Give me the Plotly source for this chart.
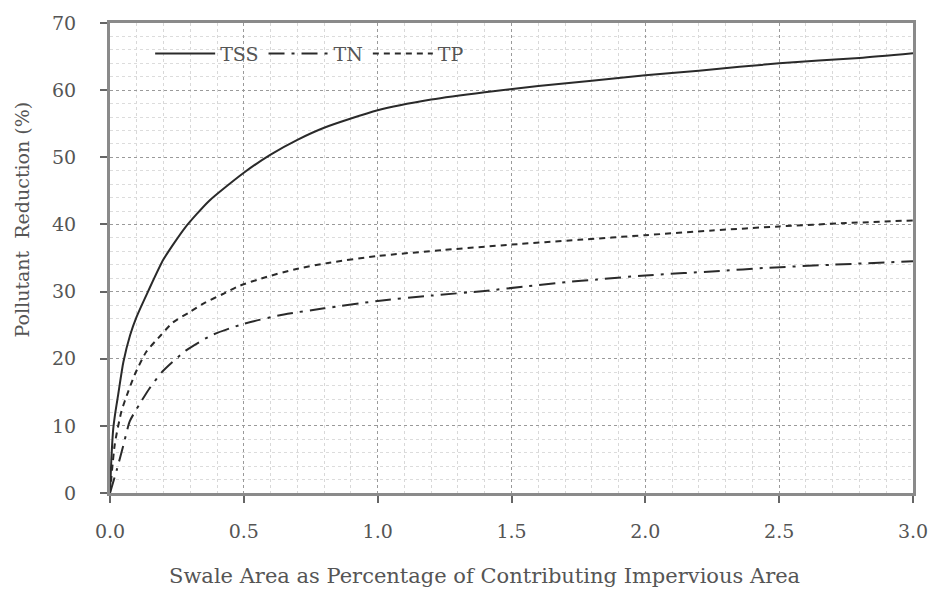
import plotly.graph_objects as go

# ---- data ----
x_tss = [0, 0.005, 0.012, 0.02, 0.03, 0.05, 0.075, 0.1, 0.142, 0.2, 0.28, 0.37,
         0.5, 0.6, 0.7, 0.8, 1.0, 1.2, 1.4, 1.6, 2.0, 2.2, 2.5, 2.8, 3.0]
y_tss = [0, 5, 9.5, 12, 14.5, 19.5, 23.5, 26.3, 30, 34.8, 39.5, 43.5,
         47.7, 50.4, 52.6, 54.4, 57.0, 58.6, 59.7, 60.6, 62.2, 62.9, 64.0, 64.8, 65.5]

x_tn = [0, 0.025, 0.048, 0.074, 0.11, 0.148, 0.196, 0.283, 0.38, 0.5, 0.65, 0.8,
        1.0, 1.2, 1.4, 1.56, 1.7, 1.82, 2.0, 2.29, 2.44, 2.7, 3.0]
y_tn = [0, 3.4, 6.8, 10.7, 13.2, 15.6, 18.1, 21.2, 23.5, 25.2, 26.6, 27.5,
        28.6, 29.4, 30.1, 30.8, 31.4, 31.8, 32.4, 33.1, 33.5, 34.0, 34.5]

x_tp = [0, 0.018, 0.043, 0.068, 0.092, 0.135, 0.19, 0.235, 0.296, 0.357, 0.42, 0.48,
        0.578, 0.689, 0.82, 1.0, 1.25, 1.5, 1.75, 2.0, 2.25, 2.5, 2.75, 3.0]
y_tp = [0, 7.3, 12.2, 15.1, 17.6, 21, 23.5, 25.4, 26.9, 28.4, 29.6, 30.8,
        32.1, 33.3, 34.3, 35.3, 36.2, 37.0, 37.7, 38.4, 39.1, 39.7, 40.2, 40.6]

series_names = ["TSS", "TN", "TP"]
x_ticks = [0.0, 0.5, 1.0, 1.5, 2.0, 2.5, 3.0]
x_tick_labels = ["0.0", "0.5", "1.0", "1.5", "2.0", "2.5", "3.0"]
y_ticks = [0, 10, 20, 30, 40, 50, 60, 70]

x_title = "Swale Area as Percentage of Contributing Impervious Area"
y_title = "Pollutant  Reduction (%)"

FONT = "DejaVu Serif"
TXT = "#555555"
LINE = "#2a2a2a"

fig = go.Figure()
fig.add_trace(go.Scatter(x=x_tss, y=y_tss, name=series_names[0], mode="lines",
                         line=dict(color=LINE, width=2, shape="spline", smoothing=0.6)))
fig.add_trace(go.Scatter(x=x_tn, y=y_tn, name=series_names[1], mode="lines",
                         line=dict(color=LINE, width=2, dash="16px,7px,3px,7px",
                                   shape="spline", smoothing=0.6)))
fig.add_trace(go.Scatter(x=x_tp, y=y_tp, name=series_names[2], mode="lines",
                         line=dict(color=LINE, width=2, dash="6px,5px",
                                   shape="spline", smoothing=0.6)))

axis_common = dict(
    showline=True, linecolor="#8a8a8a", linewidth=3, mirror=True,
    ticks="outside", ticklen=7, tickcolor="#666666", tickwidth=2,
    showgrid=True, gridcolor="#9a9a9a", gridwidth=1, griddash="dot",
    zeroline=False,
    tickfont=dict(family=FONT, size=19, color=TXT),
)

fig.update_xaxes(range=[0, 3.0], tickvals=x_ticks, ticktext=x_tick_labels,
                 ticklabelstandoff=12,
                 minor=dict(dtick=0.1, showgrid=True, gridcolor="#d8d8d8",
                            griddash="dot", gridwidth=1, ticks=""),
                 **axis_common)
fig.update_yaxes(range=[0, 70], tickvals=y_ticks,
                 ticklabelstandoff=20,
                 minor=dict(dtick=2, showgrid=True, gridcolor="#dcdcdc",
                            griddash="dot", gridwidth=1, ticks=""),
                 **axis_common)

fig.update_layout(
    width=940, height=594,
    margin=dict(l=110, r=18, t=17, b=101),
    paper_bgcolor="white", plot_bgcolor="white",
    font=dict(family=FONT, color=TXT),
    showlegend=True,
    legend=dict(orientation="h", x=0.05, y=0.975, xanchor="left", yanchor="top",
                bgcolor="rgba(0,0,0,0)", font=dict(family=FONT, size=19, color=TXT),
                itemwidth=60, tracegroupgap=0),
    annotations=[
        dict(text=x_title, xref="paper", yref="paper", x=(489 - 110) / 812,
             y=-(577 - 493) / 476, xanchor="center", yanchor="middle",
             showarrow=False, font=dict(family=FONT, size=21, color=TXT)),
        dict(text=y_title, xref="paper", yref="paper", x=-(110 - 22) / 812,
             y=(493 - 216) / 476, xanchor="center", yanchor="middle", textangle=-90,
             showarrow=False, font=dict(family=FONT, size=19, color=TXT)),
    ],
)

fig.write_html("out.html")
